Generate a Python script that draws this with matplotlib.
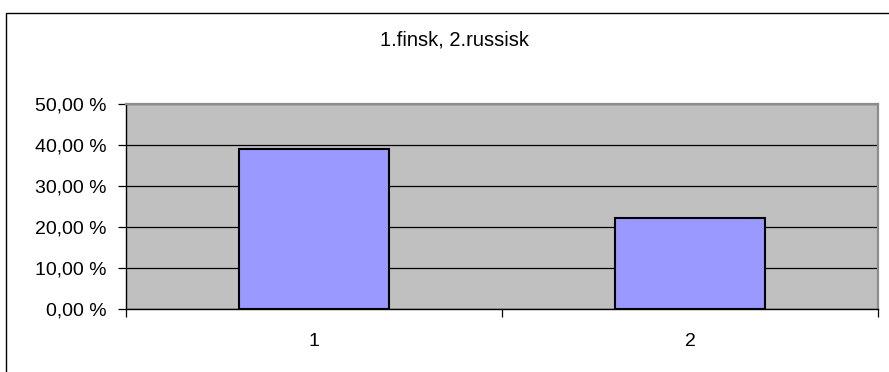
import matplotlib.pyplot as plt
from matplotlib.patches import Rectangle

plt.rcParams['font.family'] = ['Liberation Sans', 'DejaVu Sans']

title = '1.finsk, 2.russisk'
categories = ['1', '2']
values = [38.95, 22.3]
yticks = [0, 10, 20, 30, 40, 50]
ytick_labels = ['0,00 %', '10,00 %', '20,00 %', '30,00 %', '40,00 %', '50,00 %']

W, H = 889, 372
fig = plt.figure(figsize=(W / 100, H / 100), dpi=100)

# outer chart frame (only left and top edges visible)
fig.patches.append(Rectangle((6 / W, -0.1), 2.0, 1 - 13 / H + 0.1,
                             transform=fig.transFigure, fill=False,
                             edgecolor='black', linewidth=1.0))

ax = fig.add_axes([126 / W, 1 - 309 / H, (878 - 126) / W, (309 - 104) / H])
ax.set_facecolor('#C0C0C0')

x = [1, 2]
ax.bar(x, values, width=0.4, color='#9999FF', edgecolor='black', linewidth=1.5, zorder=3)

ax.set_xlim(0.5, 2.5)
ax.set_ylim(0, 50)
ax.set_yticks(yticks)
ax.set_yticklabels(ytick_labels, fontsize=14)
ax.yaxis.grid(True, color='black', linewidth=0.9, zorder=1)
ax.set_axisbelow(True)

ax.set_xticks([0.5, 1.5, 2.5])
ax.set_xticklabels([])
ax.set_xticks(x, minor=True)
ax.set_xticklabels(categories, minor=True, fontsize=14)
ax.tick_params(axis='x', which='major', direction='out', length=6, width=0.9)
ax.tick_params(axis='x', which='minor', length=0, pad=17)
ax.tick_params(axis='y', direction='out', length=6, width=0.9, pad=8)

for side in ['left', 'bottom']:
    ax.spines[side].set_color('black')
    ax.spines[side].set_linewidth(1.0)
for side in ['top', 'right']:
    ax.spines[side].set_color('#8C8C8C')
    ax.spines[side].set_linewidth(1.6)

fig.text(454 / W, 1 - 45 / H, title, ha='center', va='baseline', fontsize=14.5)

fig.savefig('out.png', dpi=100)
